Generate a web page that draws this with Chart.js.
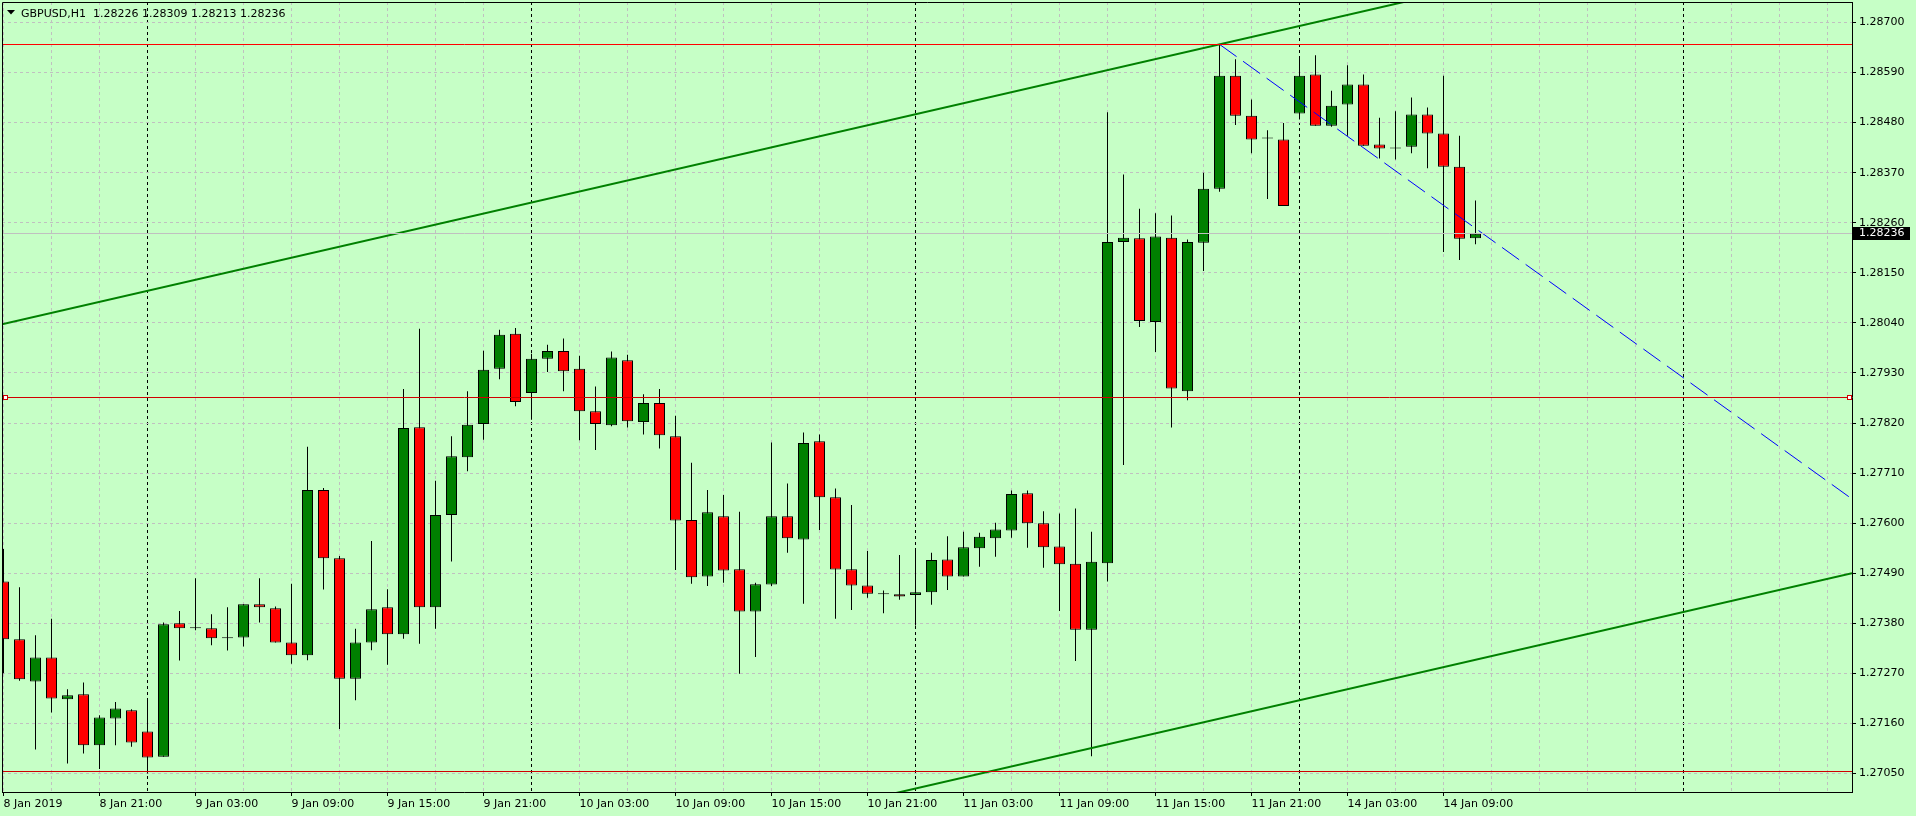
<!DOCTYPE html>
<html>
<head>
<meta charset="utf-8">
<title>GBPUSD,H1</title>
<script src="https://cdn.jsdelivr.net/npm/chart.js@4.4.1/dist/chart.umd.min.js"></script>
<style>
  html, body { margin: 0; padding: 0; background: #c6ffc6; overflow: hidden; }
  canvas { display: block; }
</style>
</head>
<body>
<canvas id="chart" width="1916" height="816"></canvas>
<script>
const symbol = "GBPUSD,H1";

// H1 bars, 8 Jan 2019 15:00 -> 14 Jan 2019 11:00 (index 0 = first bar)
const opens = [
  1.27472, 1.27345, 1.27252, 1.27305, 1.27213, 1.27224, 1.27112, 1.27171, 1.27189, 1.27142,
  1.27087, 1.27380, 1.27369, 1.27369, 1.27349, 1.27349, 1.27422, 1.27413, 1.27338, 1.27310,
  1.27673, 1.27523, 1.27258, 1.27338, 1.27415, 1.27356, 1.27811, 1.27415, 1.27618, 1.27745,
  1.27818, 1.27939, 1.28016, 1.27886, 1.27961, 1.27978, 1.27939, 1.27846, 1.27815, 1.27958,
  1.27822, 1.27864, 1.27791, 1.27607, 1.27483, 1.27615, 1.27499, 1.27406, 1.27465, 1.27615,
  1.27564, 1.27780, 1.27657, 1.27499, 1.27463, 1.27444, 1.27444, 1.27442, 1.27448, 1.27520,
  1.27483, 1.27545, 1.27567, 1.27584, 1.27666, 1.27600, 1.27549, 1.27511, 1.27366, 1.27512,
  1.28218, 1.28226, 1.28042, 1.28227, 1.27890, 1.28216, 1.28335, 1.28583, 1.28495, 1.28445,
  1.28443, 1.28500, 1.28586, 1.28473, 1.28520, 1.28564, 1.28432, 1.28425, 1.28427, 1.28498,
  1.28456, 1.28383, 1.28226
];
const highs = [
  1.27543, 1.27459, 1.27354, 1.27390, 1.27235, 1.27250, 1.27178, 1.27207, 1.27191, 1.27215,
  1.27382, 1.27407, 1.27479, 1.27400, 1.27415, 1.27422, 1.27479, 1.27417, 1.27467, 1.27768,
  1.27677, 1.27528, 1.27368, 1.27561, 1.27455, 1.27895, 1.28027, 1.27693, 1.27791, 1.27890,
  1.27979, 1.28025, 1.28029, 1.27972, 1.27992, 1.28006, 1.27968, 1.27900, 1.27977, 1.27970,
  1.27883, 1.27895, 1.27836, 1.27733, 1.27673, 1.27662, 1.27625, 1.27469, 1.27777, 1.27687,
  1.27799, 1.27795, 1.27676, 1.27640, 1.27539, 1.27452, 1.27530, 1.27543, 1.27535, 1.27571,
  1.27581, 1.27579, 1.27601, 1.27672, 1.27672, 1.27626, 1.27621, 1.27632, 1.27581, 1.28503,
  1.28366, 1.28291, 1.28281, 1.28276, 1.28223, 1.28370, 1.28652, 1.28619, 1.28531, 1.28463,
  1.28479, 1.28625, 1.28628, 1.28550, 1.28606, 1.28586, 1.28491, 1.28505, 1.28535, 1.28513,
  1.28583, 1.28451, 1.28309
];
const lows = [
  1.27270, 1.27254, 1.27103, 1.27184, 1.27072, 1.27094, 1.27060, 1.27112, 1.27109, 1.27050,
  1.27087, 1.27298, 1.27365, 1.27332, 1.27320, 1.27329, 1.27382, 1.27338, 1.27291, 1.27299,
  1.27454, 1.27148, 1.27211, 1.27321, 1.27289, 1.27346, 1.27335, 1.27368, 1.27516, 1.27714,
  1.27783, 1.27916, 1.27857, 1.27827, 1.27932, 1.27890, 1.27782, 1.27761, 1.27813, 1.27810,
  1.27795, 1.27764, 1.27497, 1.27467, 1.27462, 1.27469, 1.27269, 1.27306, 1.27462, 1.27535,
  1.27423, 1.27585, 1.27390, 1.27409, 1.27436, 1.27402, 1.27432, 1.27375, 1.27421, 1.27453,
  1.27483, 1.27504, 1.27526, 1.27568, 1.27546, 1.27502, 1.27407, 1.27297, 1.27088, 1.27472,
  1.27728, 1.28031, 1.27976, 1.27810, 1.27870, 1.28154, 1.28328, 1.28475, 1.28413, 1.28312,
  1.28297, 1.28487, 1.28473, 1.28471, 1.28451, 1.28429, 1.28401, 1.28399, 1.28413, 1.28380,
  1.28196, 1.28178, 1.28213
];
const closes = [
  1.27345, 1.27257, 1.27305, 1.27215, 1.27222, 1.27112, 1.27173, 1.27193, 1.27118, 1.27085,
  1.27378, 1.27369, 1.27369, 1.27347, 1.27347, 1.27422, 1.27415, 1.27338, 1.27310, 1.27673,
  1.27523, 1.27258, 1.27338, 1.27411, 1.27356, 1.27809, 1.27415, 1.27618, 1.27747, 1.27816,
  1.27937, 1.28014, 1.27866, 1.27961, 1.27978, 1.27934, 1.27846, 1.27818, 1.27964, 1.27824,
  1.27864, 1.27793, 1.27606, 1.27481, 1.27624, 1.27496, 1.27406, 1.27466, 1.27615, 1.27567,
  1.27776, 1.27657, 1.27498, 1.27463, 1.27445, 1.27444, 1.27439, 1.27448, 1.27519, 1.27483,
  1.27547, 1.27570, 1.27586, 1.27664, 1.27600, 1.27547, 1.27510, 1.27366, 1.27515, 1.28218,
  1.28227, 1.28044, 1.28230, 1.27896, 1.28218, 1.28335, 1.28583, 1.28495, 1.28443, 1.28445,
  1.28297, 1.28583, 1.28473, 1.28517, 1.28564, 1.28429, 1.28423, 1.28423, 1.28498, 1.28456,
  1.28383, 1.28225, 1.28236
];

// axis labels: one every 6 bars, starting at bar 0
const timeLabels = [
  "8 Jan 2019", "8 Jan 21:00", "9 Jan 03:00", "9 Jan 09:00", "9 Jan 15:00", "9 Jan 21:00",
  "10 Jan 03:00", "10 Jan 09:00", "10 Jan 15:00", "10 Jan 21:00", "11 Jan 03:00",
  "11 Jan 09:00", "11 Jan 15:00", "11 Jan 21:00", "14 Jan 03:00", "14 Jan 09:00"
];
const labelStep = 6;
const gridStep = 3;
const dayStarts = [9, 33, 57, 81, 105]; // 00:00 bars -> period separators

const priceTicks = [
  1.27050, 1.27160, 1.27270, 1.27380, 1.27490, 1.27600, 1.27710, 1.27820,
  1.27930, 1.28040, 1.28150, 1.28260, 1.28370, 1.28480, 1.28590, 1.28700
];

// drawn objects (bar index, price)
const highLevel = 1.28652;
const midLevel = 1.27877;
const lowLevel = 1.27054;
const bidPrice = closes[closes.length - 1];
const upperChannel = [[0, 1.28038], [76, 1.28652]];
const lowerChannel = [[57, 1.27017], [92, 1.27300]];
const downTrend = [[76, 1.28652], [91, 1.28273]];

// visible window
const xMin = -0.09375, xMax = 115.53125;
const yMin = 1.2700935, yMax = 1.2874505;

const bg = "#c6ffc6";
const gridGray = "#c0c0c0";

Chart.defaults.font.family = "'DejaVu Sans', sans-serif";
Chart.defaults.font.size = 11;
Chart.defaults.color = "#000";

function lineThrough(pts, from, to) {
  const [[x1, y1], [x2, y2]] = pts;
  const k = (y2 - y1) / (x2 - x1);
  return [{ x: from, y: y1 + k * (from - x1) }, { x: to, y: y1 + k * (to - x1) }];
}

const bodies = opens.map((o, i) => ({ x: i, y: [o, closes[i]] }));
const wicks = highs.map((h, i) => ({ x: i, y: [lows[i], h] }));
const bodyColors = opens.map((o, i) => closes[i] >= o ? "#008000" : "#ff0000");

const gridValues = [];
for (let v = 0; v <= xMax; v += gridStep) gridValues.push(v);

function labelFor(v) {
  if (v % labelStep !== 0) return "";
  return timeLabels[v / labelStep] || "";
}

// horizontal levels, snapped to whole pixels on the y scale
const levels = [
  { value: bidPrice, color: "#c0c0c0" },
  { value: highLevel, color: "#ff0000" },
  { value: midLevel, color: "#d00000" },
  { value: lowLevel, color: "#d00000" }
];
const rowOf = (scale, v) => Math.round(scale.getPixelForValue(v) - 0.5) + 0.5;

const lineBase = { type: "line", pointRadius: 0, tension: 0, fill: false, order: 0 };

const overlay = {
  id: "overlay",
  beforeDraw(chart) {
    const { ctx, width, height } = chart;
    ctx.save();
    ctx.fillStyle = bg;
    ctx.fillRect(0, 0, width, height);
    ctx.restore();
  },
  afterDatasetsDraw(chart) {
    const { ctx, chartArea: a, scales: { y } } = chart;
    ctx.save();
    ctx.lineWidth = 1;
    levels.forEach((l) => {
      const ly = rowOf(y, l.value);
      ctx.strokeStyle = l.color;
      ctx.beginPath();
      ctx.moveTo(a.left, ly);
      ctx.lineTo(a.right, ly);
      ctx.stroke();
    });
    ctx.restore();
  },
  afterDraw(chart) {
    const { ctx, chartArea: a, scales: { y } } = chart;
    ctx.save();
    // frame (left, top)
    ctx.strokeStyle = "#000";
    ctx.lineWidth = 1;
    ctx.beginPath();
    ctx.moveTo(a.left + 0.5, a.bottom);
    ctx.lineTo(a.left + 0.5, a.top + 0.5);
    ctx.lineTo(a.right, a.top + 0.5);
    ctx.stroke();

    // selection squares on the middle level
    const my = rowOf(y, midLevel);
    ctx.fillStyle = "#fff";
    ctx.strokeStyle = "#d00000";
    [a.left + 1.5, a.right - 4.5].forEach((sx) => {
      ctx.fillRect(sx, my - 2, 4, 4);
      ctx.strokeRect(sx, my - 2, 4, 4);
    });

    // current price box
    const by = rowOf(y, bidPrice);
    ctx.fillStyle = "#000";
    ctx.fillRect(a.right + 1, by - 6.5, 57, 13);
    ctx.fillStyle = "#fff";
    ctx.font = "11px 'DejaVu Sans'";
    ctx.textBaseline = "middle";
    ctx.textAlign = "left";
    ctx.fillText(bidPrice.toFixed(5), a.right + 7, by);

    // title
    const n = closes.length - 1;
    const title = symbol + "  " + [opens[n], highs[n], lows[n], closes[n]].map(v => v.toFixed(5)).join(" ");
    ctx.fillStyle = "#000";
    ctx.beginPath();
    ctx.moveTo(7, 10);
    ctx.lineTo(15, 10);
    ctx.lineTo(11, 14.5);
    ctx.closePath();
    ctx.fill();
    ctx.textBaseline = "alphabetic";
    ctx.fillText(title, 21, 17);
    ctx.restore();
  }
};

new Chart(document.getElementById("chart"), {
  type: "bar",
  data: {
    datasets: [
      { ...lineBase, data: lineThrough(upperChannel, xMin, xMax), borderColor: "#008000", borderWidth: 2 },
      { ...lineBase, data: lineThrough(lowerChannel, xMin, xMax), borderColor: "#008000", borderWidth: 2 },
      { ...lineBase, data: lineThrough(downTrend, downTrend[0][0], xMax), borderColor: "#0000ff", borderWidth: 1, borderDash: [21, 8] },
      {
        label: "body", data: bodies, order: 2, grouped: false,
        backgroundColor: bodyColors, borderColor: "#000", borderWidth: 1,
        borderSkipped: false, barThickness: 11, minBarLength: 1, inflateAmount: 0
      },
      {
        label: "wick", data: wicks, order: 3, grouped: false,
        backgroundColor: "#000", borderWidth: 0, barThickness: 1, inflateAmount: 0
      }
    ]
  },
  options: {
    responsive: false,
    animation: false,
    devicePixelRatio: 1,
    layout: { padding: { left: 2, top: 2, right: 0, bottom: 0 } },
    plugins: { legend: { display: false }, tooltip: { enabled: false } },
    scales: {
      x: {
        type: "linear",
        min: xMin,
        max: xMax,
        offset: false,
        afterBuildTicks: (s) => { s.ticks = gridValues.map(v => ({ value: v })); },
        afterFit: (s) => { s.height = 24; s.paddingLeft = 0; s.paddingRight = 0; },
        grid: {
          offset: false,
          color: (c) => (c.tick && dayStarts.includes(c.tick.value)) ? "#000" : gridGray,
          tickColor: (c) => (c.tick && labelFor(c.tick.value)) ? "#000" : "rgba(0,0,0,0)",
          tickLength: 4
        },
        border: { color: "#000", width: 1, dash: [3, 3] },
        ticks: {
          autoSkip: false, maxRotation: 0, minRotation: 0, align: "start", padding: 2,
          callback: (v) => labelFor(v)
        }
      },
      y: {
        type: "linear",
        position: "right",
        min: yMin,
        max: yMax,
        afterBuildTicks: (s) => { s.ticks = priceTicks.map(v => ({ value: v })); },
        afterFit: (s) => { s.width = 64; s.paddingTop = 0; s.paddingBottom = 0; },
        grid: { offset: false, color: gridGray, tickColor: "#000", tickLength: 4 },
        border: { color: "#000", width: 1, dash: [3, 3] },
        ticks: { padding: 3, callback: (v) => v.toFixed(5) }
      }
    }
  },
  plugins: [overlay]
});
</script>
</body>
</html>
